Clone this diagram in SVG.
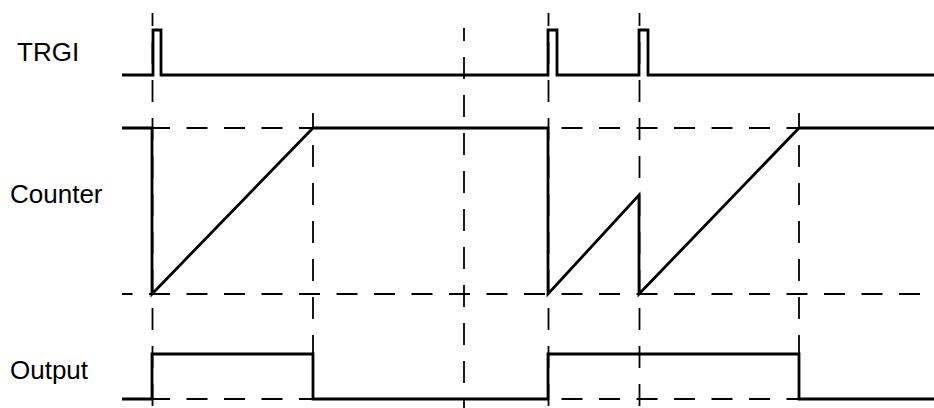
<svg xmlns="http://www.w3.org/2000/svg" width="934" height="408" viewBox="0 0 934 408">
<style>
.lbl{font-family:"Liberation Sans",Arial,sans-serif;font-size:26px;fill:#000}
.sig{fill:none;stroke:#000;stroke-width:2.8;stroke-linejoin:miter}
.dh{fill:none;stroke:#000;stroke-width:1.8;stroke-dasharray:21 16.5;stroke-dashoffset:10.5}
.dv{fill:none;stroke:#000;stroke-width:1.8;stroke-dasharray:22 16}
</style>
<rect width="934" height="408" fill="#fff"/>
<g id="guides">
<line class="dh" x1="122" y1="128" x2="934" y2="128"/>
<line class="dh" x1="122" y1="294" x2="934" y2="294"/>
<line class="dh" x1="122" y1="399" x2="934" y2="399"/>
<line class="dv" x1="152.5" y1="13" x2="152.5" y2="408" stroke-dashoffset="9"/>
<line class="dv" x1="548.5" y1="13" x2="548.5" y2="408" stroke-dashoffset="9"/>
<line class="dv" x1="639.5" y1="13" x2="639.5" y2="408" stroke-dashoffset="9"/>
<line class="dv" x1="464" y1="28" x2="464" y2="408" stroke-dashoffset="9"/>
<line class="dv" x1="313" y1="113" x2="313" y2="399" stroke-dashoffset="6"/>
<line class="dv" x1="799" y1="113" x2="799" y2="399" stroke-dashoffset="6"/>
</g>
<g id="TRGI">
<text class="lbl" x="17" y="61">TRGI</text>
<path class="sig" d="M122,75 H153 V30 H161 V75 H548 V30 H557 V75 H639 V30 H648 V75 H934"/>
</g>
<g id="Counter">
<text class="lbl" x="10" y="203">Counter</text>
<path class="sig" d="M122,128 H152 V294 L313,128 H548 V294 L639,195 V294 L799,128 H934"/>
</g>
<g id="Output">
<text class="lbl" x="10" y="379">Output</text>
<path class="sig" d="M122,399 H152 V354 H313 V399 H548 V354 H799 V399 H934"/>
</g>
</svg>
